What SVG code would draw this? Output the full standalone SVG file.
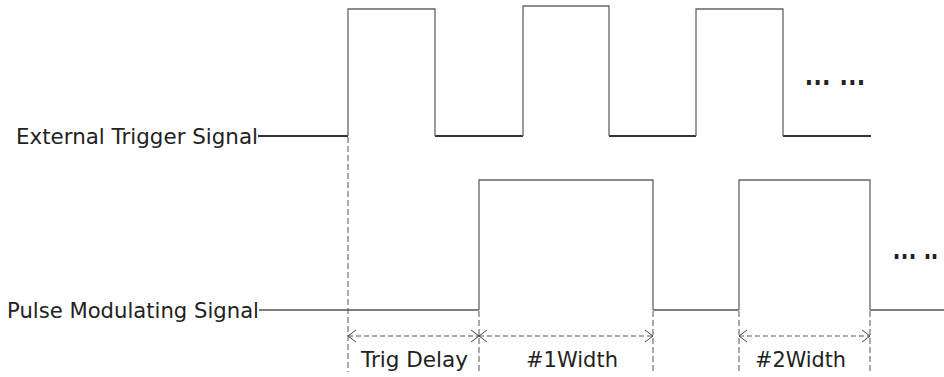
<svg xmlns="http://www.w3.org/2000/svg" width="944" height="377" viewBox="0 0 944 377">
<style>
.lbl{font-family:"DejaVu Sans","Liberation Sans",sans-serif;font-size:21px;fill:#222}
.pulse{fill:none;stroke:#666;stroke-width:1.3}
.low{fill:none;stroke:#333;stroke-width:2}
.low2{fill:none;stroke:#555;stroke-width:1.3}
.guide{fill:none;stroke:#555;stroke-width:1;stroke-dasharray:6,3}
.dim{fill:none;stroke:#555;stroke-width:1;stroke-dasharray:5,3;marker-start:url(#ah);marker-end:url(#ah)}
.dots{font-family:"Liberation Sans",sans-serif;font-weight:bold;font-size:34px;fill:#222}
</style>
<defs>
<marker id="ah" viewBox="-10 -8 12 16" markerWidth="12" markerHeight="16" refX="0" refY="0" orient="auto-start-reverse" markerUnits="userSpaceOnUse">
<path d="M-8,-6 L0,0 L-8,6" fill="none" stroke="#444" stroke-width="1"/>
</marker>
</defs>
<g id="ext-trigger">
<text class="lbl" x="16" y="144" textLength="242" lengthAdjust="spacingAndGlyphs">External Trigger Signal</text>
<path class="low" d="M258,136 H348 M435,136 H523 M609,136 H696 M783,136 H871"/>
<path class="pulse" d="M348,136 V9 H435 V136 M523,136 V6 H609 V136 M696,136 V9 H783 V136"/>
<text class="dots" x="804" y="85" textLength="62" lengthAdjust="spacingAndGlyphs">… …</text>
</g>
<g id="pulse-mod">
<text class="lbl" x="7" y="318" textLength="252" lengthAdjust="spacingAndGlyphs">Pulse Modulating Signal</text>
<path class="low2" d="M259,310 H479 M653,310 H739 M870,310 H944"/>
<path class="pulse" d="M479,310 V180 H653 V310 M739,310 V180 H870 V310"/>
<text class="dots" x="892" y="259" textLength="46" lengthAdjust="spacingAndGlyphs">… ..</text>
</g>
<g id="connectors">
<path class="guide" d="M348,137 V372 M479,311 V372 M653,311 V372 M739,311 V372 M870,311 V372"/>
<path class="dim" d="M348,336 H479"/>
<path class="dim" d="M479,336 H653"/>
<path class="dim" d="M739,336 H870"/>
</g>
<g id="dim-labels">
<text class="lbl" x="361" y="367" textLength="107" lengthAdjust="spacingAndGlyphs">Trig Delay</text>
<text class="lbl" x="526" y="367" textLength="92" lengthAdjust="spacingAndGlyphs">#1Width</text>
<text class="lbl" x="755" y="367" textLength="91" lengthAdjust="spacingAndGlyphs">#2Width</text>
</g>
</svg>
